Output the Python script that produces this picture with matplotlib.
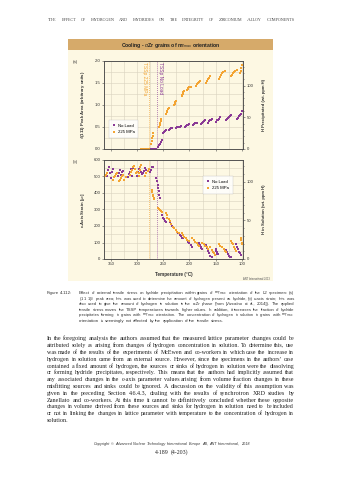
import matplotlib
matplotlib.use("Agg")
import matplotlib.pyplot as plt
from matplotlib.patches import Rectangle
from matplotlib.ticker import MultipleLocator
from matplotlib.font_manager import FontProperties
from matplotlib.backends.backend_agg import get_hinting_flag

W, H = 343, 480

# ---------------------------------------------------------
# data (temperature in C)
# ---------------------------------------------------------
# (a) delta(111) peak area, No Load
a_noload_T = [277, 274, 271, 268, 265,
              263, 261, 259, 257, 255, 253,
              251, 249, 247, 245,
              239, 237, 235, 233,
              225, 223, 221, 219, 217,
              209, 207, 205, 203, 201,
              194, 192, 190, 188, 186,
              178, 176, 174, 172, 170,
              165, 163, 161, 159, 157,
              150, 148, 146, 144, 142,
              130, 128, 126, 124, 122, 120,
              110, 108, 106, 104, 102, 100]
a_noload_v = [0, 0, 0, 0, 0,
              0.0, 0.04, 0.08, 0.12, 0.17, 0.21,
              0.36, 0.39, 0.41, 0.43,
              0.44, 0.46, 0.47, 0.48,
              0.47, 0.49, 0.50, 0.51, 0.52,
              0.50, 0.52, 0.54, 0.55, 0.56,
              0.55, 0.57, 0.58, 0.59, 0.60,
              0.57, 0.60, 0.62, 0.64, 0.66,
              0.60, 0.63, 0.65, 0.67, 0.69,
              0.62, 0.65, 0.67, 0.69, 0.72,
              0.66, 0.69, 0.71, 0.73, 0.76, 0.78,
              0.68, 0.71, 0.74, 0.77, 0.80, 0.86]

# (a) delta(111) peak area, 225 MPa
a_load_T = [292, 289, 286, 283, 280, 277,
            273, 272, 271, 270, 269,
            258, 257, 256, 255, 254,
            244, 243, 242, 241, 240,
            229, 228, 227, 226, 225,
            215, 214, 213, 212, 211,
            204, 203, 202, 200, 198,
            188, 186, 184, 182, 180,
            168, 166, 164, 162, 160,
            144, 142, 140, 138, 136, 133,
            121, 119, 117, 115, 113, 110,
            103, 102, 101, 100]
a_load_v = [0, 0, 0, 0, 0, 0,
            0.12, 0.18, 0.24, 0.30, 0.36,
            0.50, 0.55, 0.60, 0.64, 0.68,
            0.80, 0.84, 0.87, 0.90, 0.94,
            1.00, 1.03, 1.06, 1.08, 1.10,
            1.20, 1.23, 1.26, 1.29, 1.32,
            1.33, 1.36, 1.38, 1.40, 1.42,
            1.44, 1.47, 1.50, 1.52, 1.55,
            1.50, 1.55, 1.58, 1.62, 1.66,
            1.60, 1.64, 1.68, 1.72, 1.75, 1.78,
            1.66, 1.69, 1.72, 1.75, 1.78, 1.80,
            1.72, 1.78, 1.84, 1.90]

# (b) c-axis strain, No Load
b_noload_T = [357, 355, 353, 351, 349, 347, 345,
              337, 335, 333, 331, 329, 327,
              318, 316, 314, 312, 310, 308,
              301, 299, 297, 295, 293, 291,
              289, 287, 285, 283,
              276, 274, 272, 270,
              263, 262, 261, 260, 259, 258, 257,
              252, 250, 248, 246, 244,
              238, 236, 234, 232, 230,
              223, 221, 219, 217, 215, 212,
              206, 204, 202, 200, 198, 196,
              181, 180, 179, 178, 177,
              168, 166, 164, 162, 160, 158,
              150, 149, 148, 147, 146,
              130, 128, 126, 124, 122, 120,
              111, 109, 107, 105, 103, 101]
b_noload_v = [500, 540, 560, 520, 490, 530, 545,
              505, 520, 540, 510, 525, 535,
              495, 515, 530, 545, 505, 550,
              505, 525, 545, 560, 530, 515,
              520, 535, 550, 540,
              525, 540, 555, 560,
              490, 470, 450, 430, 410, 390, 370,
              265, 250, 240, 230, 225,
              225, 210, 200, 195, 190,
              165, 155, 145, 140, 130, 125,
              130, 115, 105, 95, 85, 75,
              95, 85, 75, 65, 60,
              85, 65, 50, 35, 20, 12,
              60, 50, 40, 32, 28,
              55, 40, 30, 20, 15, 10,
              90, 75, 60, 45, 35, 25]

# (b) c-axis strain, 225 MPa
b_load_T = [362, 360, 358,
            346, 344, 342, 340, 338,
            335, 333, 331, 329, 327, 325, 322,
            314, 312, 310, 308, 306, 304, 302, 300,
            297, 296, 295, 294, 293,
            284, 282, 280, 278,
            272, 271, 270, 269, 268, 267,
            261, 259, 257, 255, 253,
            244, 243, 242, 240, 238,
            235, 232, 229, 226, 223, 220,
            214, 212, 210, 207, 204, 201,
            195, 192, 189, 186, 183, 181,
            176, 173, 170, 167, 164,
            160, 158, 156, 154, 152,
            144, 141, 138, 135, 132, 130,
            121, 119, 117, 115, 113, 111,
            102, 101, 100, 99]
b_load_v = [500, 510, 520,
            480, 495, 505, 515, 520,
            470, 480, 490, 500, 510, 480, 495,
            510, 525, 540, 555, 565, 545, 520, 530,
            500, 520, 540, 555, 570,
            505, 520, 535, 545,
            420, 405, 390, 380, 370, 365,
            310, 300, 295, 290, 285,
            280, 265, 250, 240, 230,
            210, 195, 185, 175, 165, 155,
            160, 145, 135, 125, 115, 110,
            130, 115, 105, 95, 85, 80,
            100, 90, 80, 70, 62,
            70, 55, 45, 35, 25,
            90, 80, 70, 60, 50, 40,
            110, 100, 90, 75, 60, 50,
            130, 115, 100, 90]

tssp_load = 278
tssp_noload = 262

PURPLE = "#8a3a96"
ORANGE = "#f3a433"
CREAM = "#fdf8e3"
TAN = "#d6aa6a"
GRIDC = "#d8d2bf"
SPINE = "#4a4a4a"

SANS = ["Liberation Sans", "DejaVu Sans"]
SERIF = ["Liberation Serif", "DejaVu Serif"]

plt.rcParams["font.family"] = SANS
plt.rcParams["mathtext.fontset"] = "custom"
plt.rcParams["mathtext.rm"] = "Liberation Sans"
plt.rcParams["mathtext.it"] = "Liberation Sans:italic"

fig = plt.figure(figsize=(W / 100, H / 100), dpi=100)
fig.patch.set_facecolor("white")


def fx(x):
    return x / W


def fy(y):
    return 1 - y / H


# =========================================================
# figure box
# =========================================================
fig.add_artist(Rectangle((fx(68), fy(281)), (273 - 68) / W, (281 - 39) / H,
                         transform=fig.transFigure, facecolor=CREAM,
                         edgecolor="none", zorder=0))
fig.add_artist(Rectangle((fx(68), fy(50)), (273 - 68) / W, 11 / H,
                         transform=fig.transFigure, facecolor=TAN,
                         edgecolor="none", zorder=0))
fig.text(fx(170.5), fy(45), r"Cooling - $\alpha$Zr grains of m$_{\mathrm{Tmax}}$ orientation",
         ha="center", va="center", fontsize=3.7, fontweight="bold", color="#222222")
fig.text(fx(270), fy(278.5), "ANT International 2013", ha="right", va="center",
         fontsize=1.9, color="#555555")

ax_a = fig.add_axes([fx(104), fy(149), 139 / W, 88 / H])
ax_b = fig.add_axes([fx(104), fy(259), 139 / W, 99 / H])


def style(ax):
    ax.set_facecolor(CREAM)
    ax.set_xlim(363, 98)
    ax.xaxis.set_major_locator(MultipleLocator(50))
    ax.xaxis.set_minor_locator(MultipleLocator(25))
    ax.grid(True, which="both", color=GRIDC, lw=0.4)
    ax.set_axisbelow(True)
    for s in ax.spines.values():
        s.set_color(SPINE)
        s.set_linewidth(0.5)
    ax.tick_params(which="both", labelsize=3.1, length=1.5, width=0.4,
                   pad=1, colors=SPINE, labelcolor="#333333")
    ax.tick_params(which="minor", length=0)
    for t in (tssp_load, tssp_noload):
        ax.axvline(t, color=ORANGE if t == tssp_load else PURPLE,
                   ls=":", lw=0.55, zorder=1)


style(ax_a)
style(ax_b)

mk = dict(ls="none", marker="s", ms=1.9, mew=0, zorder=3)

# (a)
ax_a.plot(a_noload_T, a_noload_v, color=PURPLE, label="No Load", **mk)
ax_a.plot(a_load_T, a_load_v, color=ORANGE, label="225 MPa", **mk)
ax_a.set_ylim(0, 2.0)
ax_a.yaxis.set_major_locator(MultipleLocator(0.5))
ax_a.yaxis.set_minor_locator(MultipleLocator(0.25))
ax_a.yaxis.set_major_formatter("{x:.1f}")
ax_a.tick_params(axis="x", labelbottom=False)
ax_a.set_ylabel(r"$\delta$(111) Peak Area (arbitrary units)", fontsize=3.1,
                fontweight="bold", color="#333333")
ax_a.yaxis.set_label_coords(-0.12, 0.5)
ax_a.text(tssp_load + 3, 1.97, "TSSp 225 MPa", rotation=270, ha="right",
          va="top", fontsize=3.5, color=ORANGE)
ax_a.text(tssp_noload - 2.5, 1.97, "TSSp No Load", rotation=270, ha="left",
          va="top", fontsize=3.5, color=PURPLE)
leg = ax_a.legend(loc="lower left", bbox_to_anchor=(0.02, 0.1), fontsize=3.1,
                  markerscale=1.1, handlelength=0.6, handletextpad=0.5,
                  borderpad=0.9, labelspacing=0.6, frameon=True, fancybox=False)
leg.get_frame().set_linewidth(0.3)
leg.get_frame().set_edgecolor("#bbbbbb")

ax_a2 = ax_a.twinx()
ax_a2.set_ylim(0, 139)
ax_a2.yaxis.set_major_locator(MultipleLocator(50))
ax_a2.yaxis.set_minor_locator(MultipleLocator(10))
ax_a2.tick_params(which="both", labelsize=3.1, length=1.5, width=0.4, pad=1,
                  colors=SPINE, labelcolor="#333333")
ax_a2.tick_params(which="minor", length=0.8)
ax_a2.set_ylabel("H Precipitated (wt. ppm H)", fontsize=3.1, fontweight="bold",
                 color="#333333")
ax_a2.yaxis.set_label_coords(1.135, 0.5)
for s in ax_a2.spines.values():
    s.set_color(SPINE)
    s.set_linewidth(0.5)

# (b)
ax_b.plot(b_noload_T, b_noload_v, color=PURPLE, label="No Load", **mk)
ax_b.plot(b_load_T, b_load_v, color=ORANGE, label="225 MPa", **mk)
ax_b.set_ylim(0, 600)
ax_b.yaxis.set_major_locator(MultipleLocator(100))
ax_b.yaxis.set_minor_locator(MultipleLocator(50))
ax_b.set_ylabel(r"c-Axis Strain [$\mu\epsilon$]", fontsize=3.1, fontweight="bold",
                color="#333333")
ax_b.yaxis.set_label_coords(-0.12, 0.5)
ax_b.set_xlabel("Temperature (\u00b0C)", fontsize=3.3, fontweight="bold",
                color="#333333")
ax_b.xaxis.set_label_coords(0.5, -0.13)
leg = ax_b.legend(loc="upper right", bbox_to_anchor=(0.94, 0.86), fontsize=3.1,
                  markerscale=1.1, handlelength=0.6, handletextpad=0.5,
                  borderpad=0.9, labelspacing=0.6, frameon=True, fancybox=False)
leg.get_frame().set_linewidth(0.3)
leg.get_frame().set_edgecolor("#bbbbbb")

ax_b2 = ax_b.twinx()
ax_b2.set_ylim(0, 128)
ax_b2.yaxis.set_major_locator(MultipleLocator(50))
ax_b2.yaxis.set_minor_locator(MultipleLocator(10))
ax_b2.tick_params(which="both", labelsize=3.1, length=1.5, width=0.4, pad=1,
                  colors=SPINE, labelcolor="#333333")
ax_b2.tick_params(which="minor", length=0.8)
ax_b2.set_ylabel("H in Solution (wt. ppm H)", fontsize=3.1, fontweight="bold",
                 color="#333333")
ax_b2.yaxis.set_label_coords(1.135, 0.5)
for s in ax_b2.spines.values():
    s.set_color(SPINE)
    s.set_linewidth(0.5)

fig.text(fx(75), fy(62), "(a)", fontsize=3.1, ha="center", va="center", color="#333333")
fig.text(fx(75), fy(162), "(b)", fontsize=3.1, ha="center", va="center", color="#333333")

# =========================================================
# page text, one text per word
# =========================================================
renderer = fig.canvas.get_renderer()


def width_of(s, **kw):
    t = fig.text(0, 0, s, **kw)
    w = t.get_window_extent(renderer).width
    t.remove()
    return w


def baseline_row(word, row, fs, family, style="normal"):
    # Agg rounds each word's bitmap by its own descent; shift so every
    # word's baseline lands on the same pixel row
    if "$" in word:
        return row
    prop = FontProperties(family=family, size=fs, style=style)
    font = renderer._prepare_font(prop)
    font.set_text(word, 0, flags=get_hinting_flag())
    d = font.get_descent()
    h = font.get_width_height()[1]
    ymax, ymin = h - d, -d
    return row - ymax // 64 + (ymax - ymin) // 64 - d / 64.0


def pick_size(lines, width, base, **kw):
    ratios = sorted(width / width_of(l, fontsize=base, **kw) for l in lines[:-1])
    return base * ratios[len(ratios) // 2]


def place_line(text, x0, x1, y, fs, justify=True, family=SANS, style="normal", **kw):
    words = text.split(" ")
    n = len(words) - 1
    space = width_of("a a", fontsize=fs, family=family) - width_of("aa", fontsize=fs, family=family)
    ws = [width_of(w, fontsize=fs, family=family, style=style) for w in words]
    natural = sum(ws) + n * space
    if natural > x1 - x0:
        fs = fs * (x1 - x0) / natural * 0.99
        space = width_of("a a", fontsize=fs, family=family) - width_of("aa", fontsize=fs, family=family)
        ws = [width_of(w, fontsize=fs, family=family, style=style) for w in words]
    gap = (x1 - x0 - sum(ws)) / n if (justify and n > 0) else space
    row = int(round(y))
    x = x0
    for w, wd in zip(words, ws):
        yy = baseline_row(w, row, fs, family, style)
        fig.text(fx(x), fy(yy), w, fontsize=fs, family=family, style=style,
                 va="baseline", ha="left", **kw)
        x += wd + gap


def small_caps(text, x0, x1, y, big, small, family, **kw):
    # fake small caps, spread evenly between x0 and x1
    groups = []
    for word in text.split(" "):
        runs = []
        if word[0].isupper():
            runs.append((word[0], big))
            if len(word) > 1:
                runs.append((word[1:].upper(), small))
        else:
            runs.append((word.upper(), small))
        groups.append([(s, size, width_of(s, fontsize=size, family=family)) for s, size in runs])
    total = sum(w for g in groups for _, _, w in g)
    gap = (x1 - x0 - total) / (len(groups) - 1)
    row = int(round(y))
    x = x0
    for g in groups:
        for s, size, w in g:
            fig.text(fx(x), fy(baseline_row(s, row, size, family)), s, fontsize=size,
                     family=family, va="baseline", ha="left", **kw)
            x += w
        x += gap


small_caps("The effect of Hydrogen and Hydrides on the Integrity of Zirconium Alloy Components",
           48, 295, 21, 3.9, 3.0, SERIF, color="#444444")

cap_lines = [
    r"Effect of external tensile stress on hydride precipitation within grains of m$_{\mathrm{Tmax}}$ orientation of the L2 specimen: (a)",
    "(1\u00a01\u00a01)$_{\\delta}$ peak area; this was used to determine the amount of hydrogen present as hydride, (b) c-axis strain; this was",
    "also used to give the amount of hydrogen in solution in the \u03b1-Zr phase (from [Vizca\u00edno et al., 2014]). The applied",
    "tensile stress moves the TSSP temperatures towards higher values. In addition, it increases the fraction of hydride",
    r"precipitates forming in grains with m$_{\mathrm{Tmax}}$ orientation. The concentration of hydrogen in solution in grains with m$_{\mathrm{Tmax}}$",
    "orientation is seemingly not affected by the application of the tensile stress.",
]
cap_fs = pick_size(cap_lines, 294 - 79, 3.0, family=SANS)
place_line("Figure 4-112:", 47, 75, 294, cap_fs, justify=False, family=SANS, color="#333333")
for i, line in enumerate(cap_lines):
    place_line(line, 79, 294, 294 + i * 5.6, cap_fs,
               justify=(i < len(cap_lines) - 1), family=SANS, color="#333333")

body_lines = [
    "In the foregoing analysis the authors assumed that the measured lattice parameter changes could be",
    "attributed solely as arising from changes of hydrogen concentration in solution. To determine this, use",
    "was made of the results of the experiments of McEwen and co-workers in which case the increase in",
    "hydrogen in solution came from an external source. However, since the specimens in the authors\u2019 case",
    "contained a fixed amount of hydrogen, the sources or sinks of hydrogen in solution were the dissolving",
    "or forming hydride precipitates, respectively. This means that the authors had implicitly assumed that",
    "any associated changes in the c-axis parameter values arising from volume fraction changes in these",
    "misfitting sources and sinks could be ignored. A discussion on the validity of this assumption was",
    "given in the preceding Section 4.6.4.3, dealing with the results of synchrotron XRD studies by",
    "Zanellato and co-workers. At this time it cannot be definitively concluded whether these opposite",
    "changes in volume derived from these sources and sinks for hydrogen in solution need to be included",
    "or not in linking the changes in lattice parameter with temperature to the concentration of hydrogen in",
    "solution.",
]
body_fs = pick_size(body_lines, 294 - 47, 4.5, family=SERIF)
for i, line in enumerate(body_lines):
    place_line(line, 47, 294, 340.5 + i * 6.8, body_fs,
               justify=(i < len(body_lines) - 1), family=SERIF, color="#222222")

copy_text = "Copyright \u00a9 Advanced Nuclear Technology International Europe AB, ANT International, 2018"
cw = width_of(copy_text, fontsize=2.7, family=SANS, style="italic")
place_line(copy_text, 171.5 - cw / 2, 171.5 + cw / 2, 445, 2.7, justify=False,
           family=SANS, style="italic", color="#333333")
pw = width_of("4-189 (4-203)", fontsize=4.2, family=SERIF)
place_line("4-189 (4-203)", 171.5 - pw / 2, 171.5 + pw / 2, 454.5, 4.2,
           justify=False, family=SERIF, color="#222222")

fig.savefig("out.png", dpi=100)
